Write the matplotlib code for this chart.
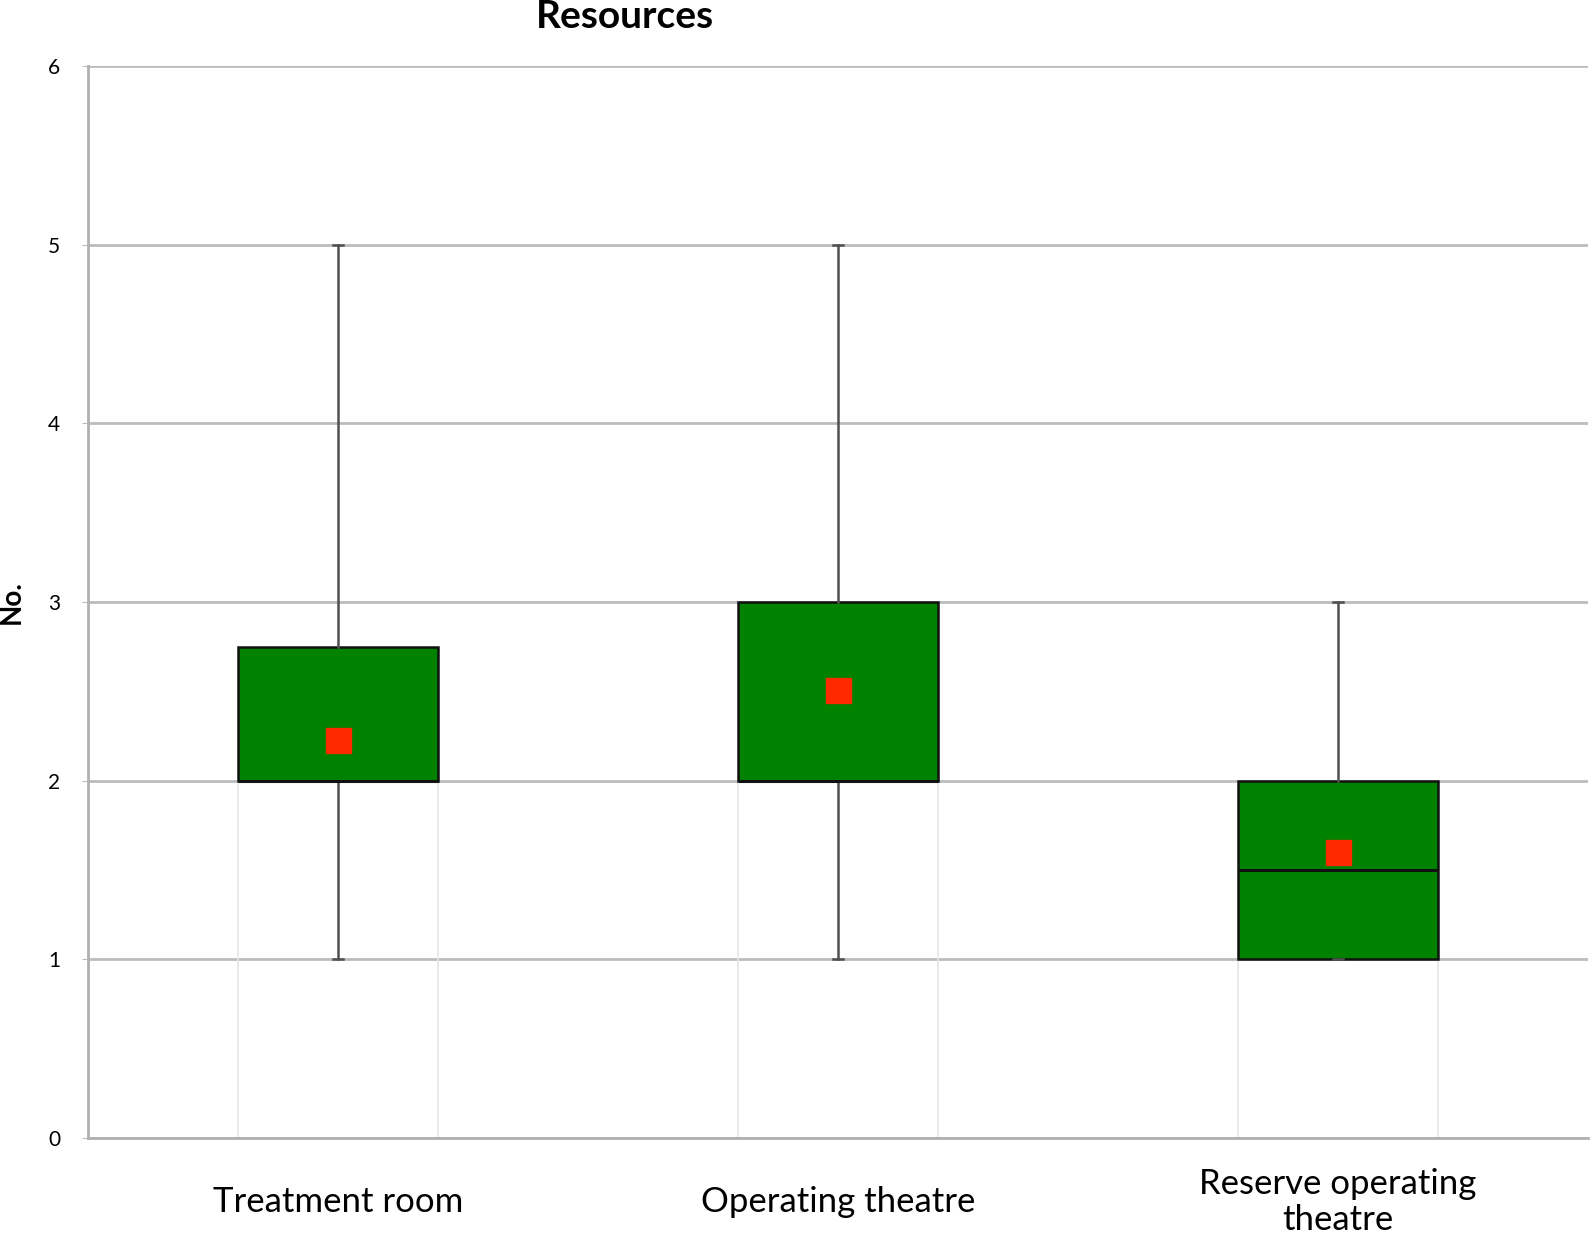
import matplotlib
matplotlib.use("Agg")
import matplotlib.pyplot as plt

categories = ["Treatment room", "Operating theatre", "Reserve operating\ntheatre"]
whisker_low = [1, 1, 1]
q1 = [2, 2, 1]
median = [2, 2, 1.5]
q3 = [2.75, 3, 2]
whisker_high = [5, 5, 3]
means = [2.23, 2.51, 1.6]
y_ticks = [0, 1, 2, 3, 4, 5, 6]

positions = [0.5, 1.5, 2.5]
box_width = 0.4

fig = plt.figure(figsize=(15.93, 12.34), dpi=100)
ax = fig.add_axes([0.0552, 0.0778, 0.9416, 0.8687])

# faint guide lines below boxes
for p, lo in zip(positions, q1):
    ax.vlines([p - box_width / 2, p + box_width / 2], 0, lo, color="#e6e6e6", lw=1.2, zorder=1)

stats = []
for i in range(len(categories)):
    stats.append(dict(med=median[i], q1=q1[i], q3=q3[i], whislo=whisker_low[i],
                      whishi=whisker_high[i], mean=means[i], fliers=[], label=categories[i]))

ax.bxp(stats, positions=positions, widths=box_width, patch_artist=True, showmeans=True,
       boxprops=dict(facecolor="#008200", edgecolor="#111111", linewidth=1.8),
       medianprops=dict(color="#111111", linewidth=2.2),
       whiskerprops=dict(color="#505050", linewidth=1.8),
       capprops=dict(color="#505050", linewidth=1.8),
       capwidths=0.02,
       meanprops=dict(marker="s", markerfacecolor="#ff2a00", markeredgecolor="#ff2a00", markersize=18),
       zorder=3)

ax.set_xlim(0, 3)
ax.set_ylim(0, 6)
ax.set_yticks(y_ticks)
ax.set_yticklabels([str(t) for t in y_ticks], fontsize=15, family="Lato")
ax.yaxis.grid(True, color="#bcbcbc", linewidth=2.0, zorder=0)
ax.set_axisbelow(True)
ax.tick_params(axis="y", length=4, color="#bcbcbc", pad=16)
ax.set_xticks(positions)
ax.set_xticklabels(categories, fontsize=25, family="Lato", linespacing=1.15)
for lbl in ax.get_xticklabels():
    lbl.set_verticalalignment("center")
ax.tick_params(axis="x", length=0, pad=46)

for s in ["top", "right"]:
    ax.spines[s].set_visible(False)
for s in ["left", "bottom"]:
    ax.spines[s].set_color("#b0b0b0")
    ax.spines[s].set_linewidth(2.0)

ax.set_ylabel("No.", fontsize=20, fontweight="bold", family="Lato")
ax.yaxis.label.set_verticalalignment("center")
ax.yaxis.set_label_coords(-0.0507, 0.5)
fig.text(625 / 1593, 1 - 17 / 1234, "Resources", fontsize=28, fontweight="bold",
         family="Lato", ha="center", va="center")

fig.savefig("out.png", dpi=100)
